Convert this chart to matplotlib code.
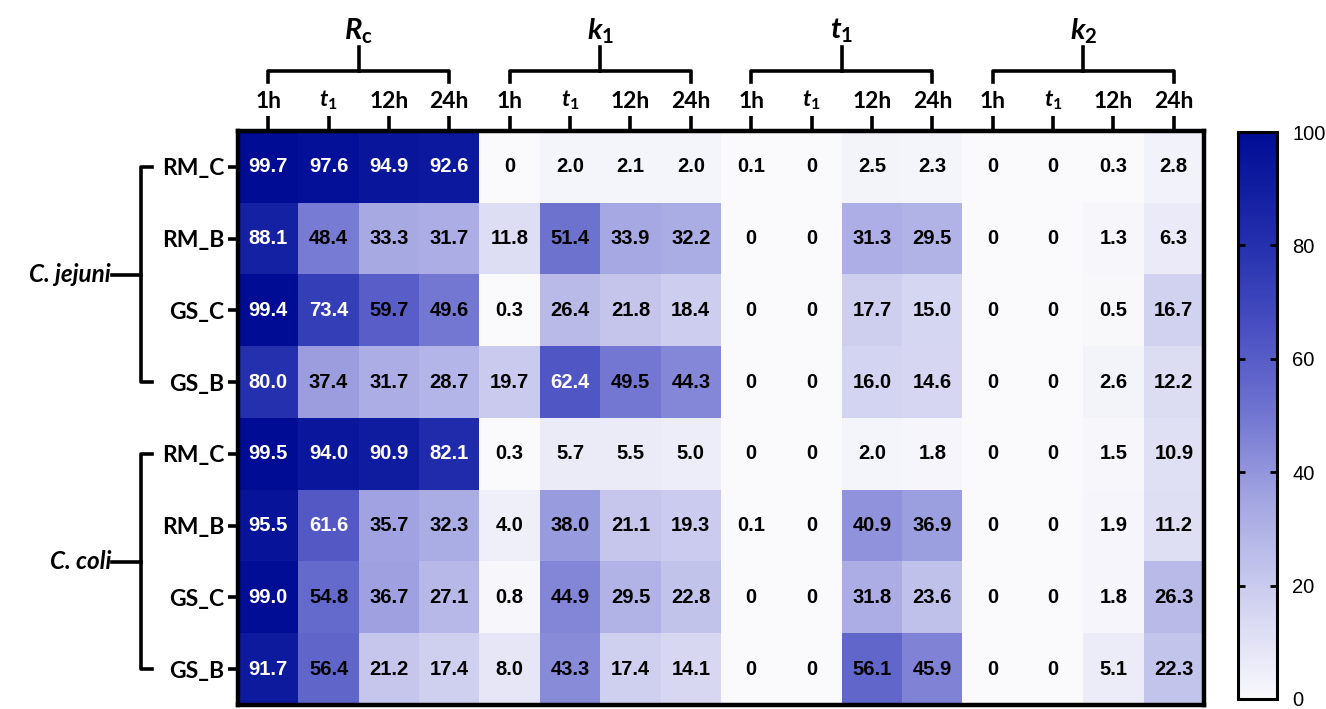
import numpy as np
import matplotlib.pyplot as plt
from matplotlib.colors import LinearSegmentedColormap
from matplotlib.transforms import blended_transform_factory

plt.rcParams['mathtext.fontset'] = 'custom'
plt.rcParams['mathtext.rm'] = 'Lato:bold'
plt.rcParams['mathtext.it'] = 'Lato:bold:italic'
plt.rcParams['mathtext.bf'] = 'Lato:bold'

groups = ['$R_\\mathrm{c}$', '$k_1$', '$t_1$', '$k_2$']
times = ['1h', '$t_1$', '12h', '24h']
species = ['C. jejuni', 'C. coli']
samples = ['RM_C', 'RM_B', 'GS_C', 'GS_B', 'RM_C', 'RM_B', 'GS_C', 'GS_B']

values = np.array([
    [99.7, 97.6, 94.9, 92.6, 0, 2.0, 2.1, 2.0, 0.1, 0, 2.5, 2.3, 0, 0, 0.3, 2.8],
    [88.1, 48.4, 33.3, 31.7, 11.8, 51.4, 33.9, 32.2, 0, 0, 31.3, 29.5, 0, 0, 1.3, 6.3],
    [99.4, 73.4, 59.7, 49.6, 0.3, 26.4, 21.8, 18.4, 0, 0, 17.7, 15.0, 0, 0, 0.5, 16.7],
    [80.0, 37.4, 31.7, 28.7, 19.7, 62.4, 49.5, 44.3, 0, 0, 16.0, 14.6, 0, 0, 2.6, 12.2],
    [99.5, 94.0, 90.9, 82.1, 0.3, 5.7, 5.5, 5.0, 0, 0, 2.0, 1.8, 0, 0, 1.5, 10.9],
    [95.5, 61.6, 35.7, 32.3, 4.0, 38.0, 21.1, 19.3, 0.1, 0, 40.9, 36.9, 0, 0, 1.9, 11.2],
    [99.0, 54.8, 36.7, 27.1, 0.8, 44.9, 29.5, 22.8, 0, 0, 31.8, 23.6, 0, 0, 1.8, 26.3],
    [91.7, 56.4, 21.2, 17.4, 8.0, 43.3, 17.4, 14.1, 0, 0, 56.1, 45.9, 0, 0, 5.1, 22.3],
])

cmap = LinearSegmentedColormap.from_list('blues', [
    (0.0, '#FAFAFC'), (0.02, '#F4F4FB'), (0.12, '#DDDDF4'), (0.34, '#A6A8E3'),
    (0.51, '#6F73D0'), (0.65, '#4A50C2'), (0.8, '#2430AE'), (1.0, '#000C94')])

W, H = 1326, 709
fig = plt.figure(figsize=(W / 100, H / 100), dpi=100)
ax = fig.add_axes([238 / W, 4 / H, 966 / W, 574 / H])
ax.imshow(values, cmap=cmap, vmin=0, vmax=100, aspect='auto')

nr, nc = values.shape
for i in range(nr):
    for j in range(nc):
        v = values[i, j]
        s = '0' if v == 0 else '%.1f' % v
        ax.text(j, i, s, ha='center', va='center', fontsize=14.5, fontweight='bold',
                family='Liberation Sans', color='white' if v >= 60 else 'black')

for sp in ax.spines.values():
    sp.set_linewidth(3.2)

ax.xaxis.tick_top()
ax.set_xticks(range(nc))
ax.set_xticklabels(times * 4, fontsize=16.5, fontweight='bold', family='Lato')
ax.set_yticks(range(nr))
ax.set_yticklabels(samples, fontsize=16.5, fontweight='bold', family='Lato')
ax.tick_params(axis='x', length=11, width=2.6, pad=3)
ax.tick_params(axis='y', length=7, width=2.6, pad=3)

# top brackets
tr = blended_transform_factory(ax.transData, ax.transAxes)
ytop = lambda py: (705 - py) / 574
for g, name in enumerate(groups):
    x0, x1 = 4 * g, 4 * g + 3
    xm = (x0 + x1) / 2
    ax.plot([x0, x0, x1, x1], [ytop(82), ytop(71), ytop(71), ytop(82)], color='black',
            lw=2.6, transform=tr, clip_on=False, solid_joinstyle='round')
    ax.plot([xm, xm], [ytop(71), ytop(47)], color='black', lw=2.6, transform=tr, clip_on=False)
    ax.text(xm, ytop(31), name, ha='center', va='center', fontsize=21, transform=tr)

# left brackets
trl = blended_transform_factory(ax.transAxes, ax.transData)
xax = lambda px: (px - 238) / 966
for s, name in enumerate(species):
    r0, r1 = 4 * s, 4 * s + 3
    rm = (r0 + r1) / 2
    ax.plot([xax(152), xax(141), xax(141), xax(152)], [r0, r0, r1, r1], color='black',
            lw=2.6, transform=trl, clip_on=False, solid_joinstyle='round')
    ax.plot([xax(141), xax(112)], [rm, rm], color='black', lw=2.6, transform=trl, clip_on=False)
    ax.text(xax(111), rm, name, ha='right', va='center', fontsize=17.5, fontweight='bold',
            style='italic', family='Lato', transform=trl)

# colorbar
cax = fig.add_axes([1238 / W, 10 / H, 39 / W, 567 / H])
cb = fig.colorbar(ax.images[0], cax=cax, ticks=[0, 20, 40, 60, 80, 100])
cb.outline.set_linewidth(2.2)
cax.tick_params(direction='in', left=True, right=True, length=5, width=2, labelsize=14.5, pad=11)
for t in cax.get_yticklabels():
    t.set_family('Liberation Sans')

fig.savefig('out.png', dpi=100)
